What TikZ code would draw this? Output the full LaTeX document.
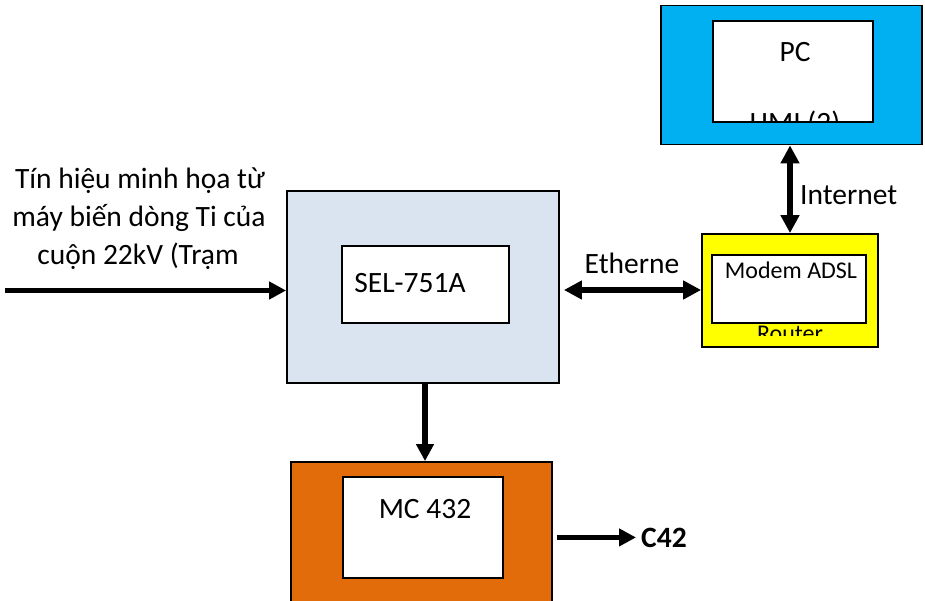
\documentclass[tikz,border=0pt]{standalone}
\usepackage{fontspec}
\setmainfont{Carlito}
\usetikzlibrary{arrows.meta}
\definecolor{pcblue}{HTML}{00B0F0}
\definecolor{selblue}{HTML}{DAE3F0}
\definecolor{mcorange}{HTML}{E36C0A}
\definecolor{modyellow}{HTML}{FFFF00}
\tikzset{
  boxed/.style={draw=black, line width=1.8pt, inner sep=0pt, rectangle},
  innerbox/.style={boxed, fill=white},
  big/.style={font=\fontsize{29.5}{36.6}\selectfont, inner sep=0pt},
  small/.style={font=\fontsize{24}{29}\selectfont, inner sep=0pt},
  arr/.style={line width=5.8pt, -{Triangle[length=17pt,width=17pt]}},
  darr/.style={line width=5.8pt, {Triangle[length=18pt,width=18pt]}-{Triangle[length=18pt,width=18pt]}}
}
\begin{document}
\begin{tikzpicture}[x=1pt,y=-1pt]
\clip (0,0) rectangle (925,601);
\fill[white] (0,0) rectangle (925,601);
% boxes
\node[boxed, fill=pcblue, minimum width=261pt, minimum height=139pt] (pc) at (791.5,75) {};
\node[innerbox, minimum width=160pt, minimum height=101pt] (pcin) at (793,71.5) {};
\node[boxed, fill=selblue, minimum width=272pt, minimum height=192pt] (sel) at (423,287) {};
\node[innerbox, minimum width=167pt, minimum height=77pt] (selin) at (425.5,284.5) {};
\node[boxed, fill=modyellow, minimum width=176pt, minimum height=113pt] (modem) at (790,290.5) {};
\node[innerbox, minimum width=154pt, minimum height=68pt] (modin) at (789,289) {};
\node[boxed, fill=mcorange, minimum width=261pt, minimum height=160pt] (mc) at (421.5,542) {};
\node[innerbox, minimum width=160pt, minimum height=101pt] (mcin) at (423,527.5) {};
% texts
\node[big, anchor=base] (pct) at (795,62) {PC};
\begin{scope}
\clip ([xshift=1pt,yshift=-1pt]pcin.north west) rectangle ([xshift=-1pt,yshift=1pt]pcin.south east);
\node[big, anchor=base] (hmi) at (795,133) {HMI (2)};
\end{scope}
\node[big, anchor=base] (selt) at (410,293) {SEL-751A};
\node[small, anchor=base] (modt) at (791,279) {Modem ADSL};
\begin{scope}
\clip (712,323) rectangle (866,335.5);
\node[small, anchor=base] (rout) at (790,341) {Router};
\end{scope}
\node[big, anchor=base] (mct) at (425,518) {MC 432};
\node[big, anchor=base west, font=\fontsize{29.5}{36.6}\selectfont\bfseries] (c42) at (641,547) {C42};
\node[big, anchor=base] (l1) at (140,189) {Tín hiệu minh họa từ};
\node[big, anchor=base] (l2) at (139,227) {máy biến dòng Ti của};
\node[big, anchor=base] (l3) at (138,265) {cuộn 22kV (Trạm};
\node[big, anchor=base] (eth) at (632,273) {Etherne};
\node[big, anchor=base west] (inet) at (800,205) {Internet};
% connectors
\coordinate (in) at (5,290.5);
\draw[arr] (in) -- (in -| sel.west);
\coordinate (ey) at (0,290);
\draw[darr, shorten <=4pt] (ey -| sel.east) -- (ey -| modem.west);
\draw[darr] (modem.north) -- (modem.north |- pc.south);
\coordinate (dn) at (425,0);
\draw[arr] (dn |- sel.south) -- (dn |- mc.north);
\draw[arr, shorten <=4pt, shorten >=5pt] (mc.east |- c42.west) -- (c42.west);
\end{tikzpicture}
\end{document}
